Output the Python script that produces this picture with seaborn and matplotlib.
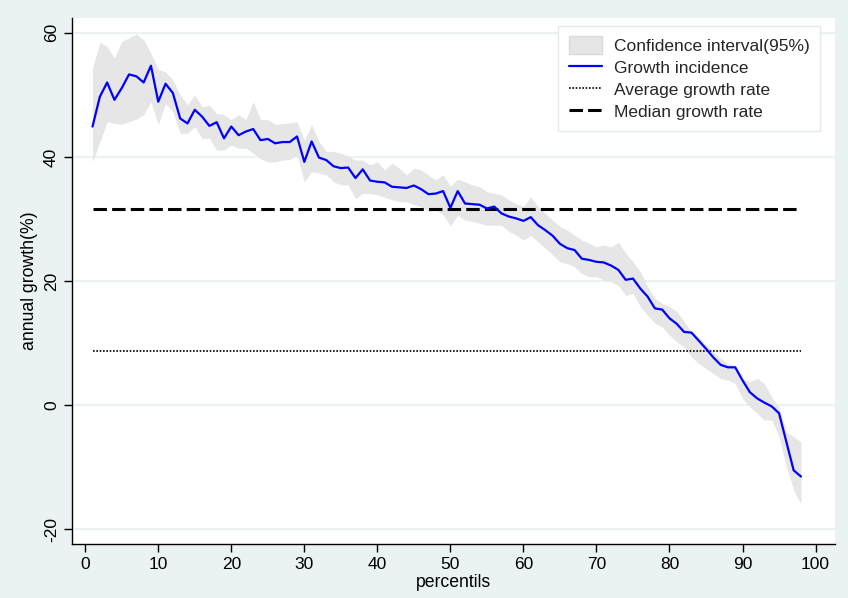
import numpy as np
import pandas as pd
import matplotlib
matplotlib.use("Agg")
import matplotlib.pyplot as plt
import seaborn as sns
from matplotlib.patches import Patch
from matplotlib.lines import Line2D

percentiles = list(range(1, 99))
growth = [44.9, 49.7, 52.0, 49.2, 51.1, 53.3, 53.0, 52.0, 54.7, 48.9,
          51.8, 50.3, 46.2, 45.4, 47.6, 46.5, 45.0, 45.6, 43.0, 44.9,
          43.5, 44.1, 44.5, 42.7, 42.9, 42.2, 42.4, 42.4, 43.3, 39.2,
          42.5, 39.9, 39.5, 38.5, 38.2, 38.3, 36.6, 38.0, 36.2, 36.0,
          35.9, 35.2, 35.1, 35.0, 35.4, 34.8, 34.0, 34.1, 34.5, 31.8,
          34.5, 32.5, 32.4, 32.3, 31.7, 32.0, 30.9, 30.4, 30.1, 29.7,
          30.3, 29.0, 28.2, 27.3, 26.0, 25.3, 25.0, 23.6, 23.4, 23.1,
          23.0, 22.5, 21.8, 20.2, 20.4, 18.8, 17.5, 15.6, 15.4, 14.0,
          13.1, 11.8, 11.7, 10.4, 9.1, 7.7, 6.5, 6.1, 6.1, 4.0,
          2.1, 1.1, 0.4, -0.2, -1.3, -5.9, -10.5, -11.5]
ci_upper = [54.3, 58.5, 57.8, 55.9, 58.6, 59.2, 59.8, 58.9, 56.7, 54.1,
            53.7, 52.4, 50.0, 48.4, 50.0, 48.1, 48.3, 47.0, 46.8, 46.0,
            46.8, 46.0, 48.9, 46.0, 46.0, 45.2, 45.4, 45.5, 45.7, 42.7,
            45.2, 42.5, 40.9, 40.9, 40.6, 40.1, 39.5, 39.5, 38.7, 39.2,
            37.9, 39.0, 38.2, 37.1, 38.2, 37.9, 37.1, 36.3, 37.1, 35.3,
            36.4, 36.0, 35.5, 35.2, 34.4, 34.1, 33.9, 33.1, 32.5, 32.0,
            33.6, 32.0, 30.9, 29.8, 28.8, 28.2, 27.4, 26.6, 26.1, 25.5,
            25.8, 25.5, 26.3, 24.5, 23.1, 21.5, 19.1, 17.2, 16.4, 15.9,
            15.1, 13.5, 11.8, 11.0, 9.7, 8.6, 7.5, 6.7, 6.4, 4.3,
            3.8, 4.3, 3.5, 1.3, -0.3, -4.3, -5.1, -5.9]
ci_lower = [39.2, 42.4, 45.7, 45.4, 45.3, 45.7, 46.1, 46.8, 48.9, 45.2,
            48.6, 47.3, 43.8, 43.8, 44.9, 43.0, 43.0, 41.1, 41.1, 41.9,
            41.4, 41.4, 40.6, 39.7, 39.2, 39.2, 39.5, 39.6, 40.3, 36.0,
            37.6, 37.4, 37.1, 36.0, 35.5, 35.5, 33.3, 34.1, 34.1, 33.9,
            33.5, 33.1, 32.8, 32.8, 32.3, 32.0, 31.2, 31.5, 30.7, 28.9,
            30.6, 29.8, 29.6, 29.3, 29.0, 29.0, 29.0, 28.0, 27.4, 26.6,
            27.4, 26.3, 25.3, 24.2, 23.1, 22.8, 22.3, 21.2, 20.7, 20.7,
            20.2, 19.9, 19.3, 17.7, 18.0, 15.9, 14.5, 13.2, 12.6, 11.3,
            10.2, 9.4, 7.8, 6.7, 5.9, 5.1, 4.3, 4.0, 3.5, 1.1,
            -0.3, -1.3, -2.4, -2.4, -5.1, -9.9, -13.7, -15.9]
average_growth = 8.7
median_growth = 31.6

x_ticks = [0, 10, 20, 30, 40, 50, 60, 70, 80, 90, 100]
y_ticks = [-20, 0, 20, 40, 60]

df = pd.DataFrame({"p": percentiles, "g": growth, "lo": ci_lower, "hi": ci_upper})
ends = pd.DataFrame({"p": [percentiles[0], percentiles[-1]],
                     "avg": [average_growth] * 2,
                     "med": [median_growth] * 2})

sns.set_theme(style="white")
plt.rcParams["font.family"] = ["Liberation Sans", "DejaVu Sans"]

bg = "#EAF2F3"
dash_style = (0, (4.4, 1.7))
dot_style = (0, (1, 1))

fig = plt.figure(figsize=(8.48, 5.98), dpi=100, facecolor=bg)
ax = fig.add_axes([0.085, 0.090, 0.900, 0.880])
ax.set_facecolor("white")

ax.fill_between(df["p"], df["lo"], df["hi"], color="#E6E6E6", linewidth=0, zorder=1)
sns.lineplot(data=df, x="p", y="g", ax=ax, color="#0000FF", linewidth=1.6, zorder=3)
sns.lineplot(data=ends, x="p", y="avg", ax=ax, color="black", linewidth=1.2,
             linestyle=dot_style, zorder=2)
sns.lineplot(data=ends, x="p", y="med", ax=ax, color="black", linewidth=2.2,
             linestyle=dash_style, zorder=2)

ax.set_xlim(-1.8, 102.7)
ax.set_ylim(-22.4, 62.4)
ax.set_xticks(x_ticks)
ax.set_yticks(y_ticks)
ax.set_yticklabels([str(v) for v in y_ticks], rotation=90, va="center")
ax.grid(axis="y", color=bg, linewidth=1.5)
ax.grid(axis="x", visible=False)
for s in ["top", "right"]:
    ax.spines[s].set_visible(False)
for s in ["left", "bottom"]:
    ax.spines[s].set_color("black")
    ax.spines[s].set_linewidth(1.0)
ax.tick_params(axis="both", direction="out", length=6, width=1, color="black",
               labelsize=12.5, labelcolor="black", left=True, bottom=True)
ax.set_xlabel("percentils", fontsize=12.7, color="black", labelpad=1)
ax.set_ylabel("annual growth(%)", fontsize=12.7, color="black", labelpad=4)

handles = [Patch(facecolor="#E6E6E6", edgecolor="#DADADA"),
           Line2D([0], [0], color="#0000FF", linewidth=1.6),
           Line2D([0], [0], color="black", linewidth=1.2, linestyle=dot_style),
           Line2D([0], [0], color="black", linewidth=2.2, linestyle=dash_style)]
labels = ["Confidence interval(95%)", "Growth incidence",
          "Average growth rate", "Median growth rate"]
leg = ax.legend(handles, labels, loc="upper right", bbox_to_anchor=(0.980, 0.985),
                borderaxespad=0, fontsize=12.5, frameon=True, fancybox=False,
                edgecolor="#E3EBEC", framealpha=1, handlelength=1.9,
                handleheight=1.2, handletextpad=0.7,
                labelspacing=0.25, borderpad=0.6)
leg.get_frame().set_linewidth(1.0)

fig.savefig("out.png", dpi=100, facecolor=bg)
